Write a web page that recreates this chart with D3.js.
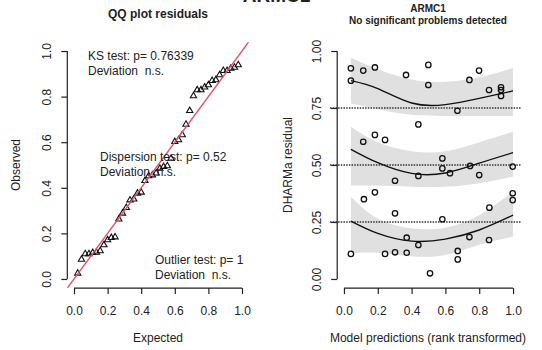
<!DOCTYPE html>
<html>
<head>
<meta charset="utf-8">
<script src="https://cdn.jsdelivr.net/npm/d3@7"></script>
<style>
  body { margin: 0; background: #fff; }
  svg { display: block; font-family: "Liberation Sans", Arial, sans-serif; }
  text { fill: #222; }
</style>
</head>
<body>
<svg id="chart" width="542" height="350"></svg>
<script>
// scaled residuals (x = rank transformed prediction)
const predRank = [0.041, 0.114, 0.183, 0.367, 0.041, 0.499, 0.499, 0.44, 0.183, 0.114, 0.243,
  0.742, 0.799, 0.858, 0.929, 0.929, 0.929, 0.671, 0.302, 0.44, 0.118, 0.183, 0.302,
  0.582, 0.582, 0.627, 0.746, 0.80, 0.998, 0.998, 0.998, 0.86, 0.582,
  0.041, 0.243, 0.302, 0.371, 0.371, 0.44, 0.509, 0.673, 0.673, 0.742, 0.858];
const residuals = [0.924, 0.914, 0.928, 0.895, 0.870, 0.939, 0.851, 0.678, 0.632, 0.602, 0.610,
  0.873, 0.914, 0.829, 0.841, 0.829, 0.803, 0.738, 0.431, 0.452, 0.350, 0.380, 0.288,
  0.529, 0.485, 0.464, 0.496, 0.456, 0.493, 0.376, 0.346, 0.313, 0.262,
  0.110, 0.110, 0.117, 0.115, 0.181, 0.149, 0.025, 0.123, 0.086, 0.184, 0.171];

// quantile regression fits and their bands (0.25 / 0.5 / 0.75)
const fitX = [0.041, 0.2, 0.4, 0.6, 0.8, 1.0];
const fit75 = [0.870, 0.835, 0.772, 0.765, 0.792, 0.825];
const up75 = [0.970, 0.920, 0.875, 0.865, 0.885, 0.925];
const lo75 = [0.770, 0.745, 0.720, 0.715, 0.715, 0.715];
const fit50 = [0.569, 0.510, 0.463, 0.465, 0.508, 0.554];
const up50 = [0.668, 0.600, 0.560, 0.560, 0.600, 0.646];
const lo50 = [0.410, 0.410, 0.405, 0.405, 0.420, 0.449];
const fit25 = [0.254, 0.200, 0.166, 0.175, 0.215, 0.280];
const up25 = [0.361, 0.265, 0.222, 0.225, 0.280, 0.383];
const lo25 = [0.113, 0.115, 0.100, 0.105, 0.150, 0.186];

const refLines = [0.25, 0.5, 0.75];
const ticksQQ = [0, 0.2, 0.4, 0.6, 0.8, 1.0];
const ticksRes = [0, 0.25, 0.5, 0.75, 1.0];

const svg = d3.select("#chart");

// plot regions (R style 4% padding)
const xL = d3.scaleLinear().domain([-0.04, 1.04]).range([67.3, 248.7]);
const yL = d3.scaleLinear().domain([-0.04, 1.04]).range([288.1, 41.9]);
const xR = d3.scaleLinear().domain([-0.04, 1.04]).range([337.2, 519.8]);
const yR = d3.scaleLinear().domain([-0.04, 1.04]).range([288.1, 41.9]);

// R-like axes: line from first to last tick, outward ticks
function bottomAxis(x, y0, ticks, fmt) {
  const g = svg.append("g").attr("transform", `translate(0,${y0})`);
  g.call(d3.axisBottom(x).tickValues(ticks).tickFormat(fmt).tickSize(6).tickPadding(12));
  g.select(".domain").remove();
  g.append("line").attr("x1", x(ticks[0])).attr("x2", x(ticks[ticks.length - 1]))
    .attr("stroke", "#222").attr("stroke-width", 1.2);
  g.selectAll(".tick line").attr("stroke", "#222").attr("stroke-width", 1.2);
  g.selectAll("text").style("font-size", "12px").attr("fill", "#222");
}
function leftAxis(y, x0, ticks, fmt) {
  const g = svg.append("g").attr("transform", `translate(${x0},0)`);
  g.call(d3.axisLeft(y).tickValues(ticks).tickFormat(fmt).tickSize(6));
  g.select(".domain").remove();
  g.append("line").attr("y1", y(ticks[0])).attr("y2", y(ticks[ticks.length - 1]))
    .attr("stroke", "#222").attr("stroke-width", 1.2);
  g.selectAll(".tick line").attr("stroke", "#222").attr("stroke-width", 1.2);
  g.selectAll(".tick text")
    .attr("x", null).attr("dy", null)
    .attr("text-anchor", "middle")
    .attr("dominant-baseline", "central")
    .attr("transform", "translate(-20,0) rotate(-90)")
    .style("font-size", "12px").attr("fill", "#222");
}

// ---- left: QQ plot ----
const n = residuals.length;
const qq = residuals.slice().sort(d3.ascending).map((v, i) => ({ e: (i + 1) / (n + 1), o: v }));

svg.append("defs").append("clipPath").attr("id", "clipL").append("rect")
  .attr("x", 67.3).attr("y", 41.9).attr("width", 181.4).attr("height", 246.2);

svg.append("text").attr("x", 158).attr("y", 18).attr("text-anchor", "middle")
  .style("font-size", "12px").style("font-weight", "bold").text("QQ plot residuals");

const tri = d3.symbol().type(d3.symbolTriangle).size(17);
svg.append("g").selectAll("path").data(qq).join("path")
  .attr("d", tri)
  .attr("transform", (d) => `translate(${xL(d.e)},${yL(d.o)})`)
  .attr("fill", "none").attr("stroke", "#111").attr("stroke-width", 1.1);

svg.append("line").attr("clip-path", "url(#clipL)")
  .attr("x1", xL(-0.04)).attr("y1", yL(-0.04)).attr("x2", xL(1.04)).attr("y2", yL(1.04))
  .attr("stroke", "#DF536B").attr("stroke-width", 1.4);

bottomAxis(xL, 288.1, ticksQQ, d3.format(".1f"));
leftAxis(yL, 67.3, ticksQQ, d3.format(".1f"));

svg.append("text").attr("x", 158).attr("y", 342).attr("text-anchor", "middle")
  .style("font-size", "12px").text("Expected");
svg.append("text").attr("transform", "translate(16,165) rotate(-90)")
  .attr("text-anchor", "middle").attr("dominant-baseline", "central")
  .style("font-size", "12px").text("Observed");

// test results
const notes = [
  { x: 88, y: 60, lines: ["KS test: p= 0.76339", "Deviation  n.s."] },
  { x: 100, y: 161, lines: ["Dispersion test: p= 0.52", "Deviation  n.s."] },
  { x: 155, y: 263.5, lines: ["Outlier test: p= 1", "Deviation  n.s."] },
];
notes.forEach((nt) => {
  nt.lines.forEach((l, i) => {
    svg.append("text").attr("x", nt.x).attr("y", nt.y + i * 15)
      .style("font-size", "12px").attr("xml:space", "preserve").text(l);
  });
});

// ---- right: residuals vs predicted ----
// outer title, mostly above the picture in the reference
svg.append("text").attr("x", 276.5).attr("y", 1.5).attr("text-anchor", "middle")
  .style("font-size", "19px").style("font-weight", "bold").text("ARMC1");
svg.append("text").attr("x", 428).attr("y", 12).attr("text-anchor", "middle")
  .style("font-size", "10px").style("font-weight", "bold").text("ARMC1");
svg.append("text").attr("x", 428).attr("y", 24).attr("text-anchor", "middle")
  .style("font-size", "10px").style("font-weight", "bold").text("No significant problems detected");

const bands = [
  { fit: fit25, up: up25, lo: lo25 },
  { fit: fit50, up: up50, lo: lo50 },
  { fit: fit75, up: up75, lo: lo75 },
];
const area = d3.area().curve(d3.curveNatural)
  .x((d) => xR(d.x)).y0((d) => yR(d.lo)).y1((d) => yR(d.up));
const line = d3.line().curve(d3.curveNatural).x((d) => xR(d.x)).y((d) => yR(d.y));

bands.forEach((b) => {
  svg.append("path")
    .attr("d", area(fitX.map((x, i) => ({ x: x, lo: b.lo[i], up: b.up[i] }))))
    .attr("fill", "#e0e0e0");
});

refLines.forEach((h) => {
  svg.append("line").attr("x1", 330).attr("x2", 521).attr("y1", yR(h)).attr("y2", yR(h))
    .attr("stroke", "#333").attr("stroke-width", 1.6).attr("stroke-dasharray", "1.5,1.2");
});

bands.forEach((b) => {
  svg.append("path")
    .attr("d", line(fitX.map((x, i) => ({ x: x, y: b.fit[i] }))))
    .attr("fill", "none").attr("stroke", "#111").attr("stroke-width", 1.4);
});

svg.append("g").selectAll("circle").data(residuals).join("circle")
  .attr("cx", (d, i) => xR(predRank[i])).attr("cy", (d) => yR(d))
  .attr("r", 2.7).attr("fill", "none").attr("stroke", "#111").attr("stroke-width", 1.3);

bottomAxis(xR, 288.1, ticksQQ, d3.format(".1f"));
leftAxis(yR, 337.2, ticksRes, d3.format(".2f"));

svg.append("text").attr("x", 428).attr("y", 342).attr("text-anchor", "middle")
  .style("font-size", "12px").text("Model predictions (rank transformed)");
svg.append("text").attr("transform", "translate(288,165) rotate(-90)")
  .attr("text-anchor", "middle").attr("dominant-baseline", "central")
  .style("font-size", "12px").text("DHARMa residual");
</script>
</body>
</html>
